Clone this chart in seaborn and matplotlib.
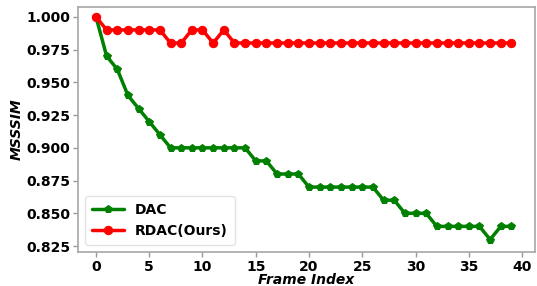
import matplotlib
matplotlib.use("Agg")
import matplotlib.pyplot as plt
import seaborn as sns
import pandas as pd

frames = list(range(40))
dac = [1.0, 0.97, 0.96, 0.94, 0.93, 0.92, 0.91, 0.90, 0.90, 0.90,
       0.90, 0.90, 0.90, 0.90, 0.90, 0.89, 0.89, 0.88, 0.88, 0.88,
       0.87, 0.87, 0.87, 0.87, 0.87, 0.87, 0.87, 0.86, 0.86, 0.85,
       0.85, 0.85, 0.84, 0.84, 0.84, 0.84, 0.84, 0.83, 0.84, 0.84]
rdac = [1.0, 0.99, 0.99, 0.99, 0.99, 0.99, 0.99, 0.98, 0.98, 0.99,
        0.99, 0.98, 0.99, 0.98, 0.98, 0.98, 0.98, 0.98, 0.98, 0.98,
        0.98, 0.98, 0.98, 0.98, 0.98, 0.98, 0.98, 0.98, 0.98, 0.98,
        0.98, 0.98, 0.98, 0.98, 0.98, 0.98, 0.98, 0.98, 0.98, 0.98]
xticks = [0, 5, 10, 15, 20, 25, 30, 35, 40]
yticks = [0.825, 0.850, 0.875, 0.900, 0.925, 0.950, 0.975, 1.000]

sns.set_theme(style="white", rc={"text.color": "black", "axes.labelcolor": "black",
                                 "xtick.color": "black", "ytick.color": "black"})
plt.rcParams['font.family'] = ['DejaVu Sans']

fig, ax = plt.subplots(figsize=(5.37, 2.86), dpi=100)
df = pd.DataFrame({"frame": frames, "DAC": dac, "RDAC(Ours)": rdac})
sns.lineplot(data=df, x="frame", y="DAC", ax=ax, color="green", marker="p",
             markersize=6, linewidth=2.5, markeredgecolor="green", label="DAC")
sns.lineplot(data=df, x="frame", y="RDAC(Ours)", ax=ax, color="red", marker="o",
             markersize=6, linewidth=2.5, markeredgecolor="red", label="RDAC(Ours)")

ax.set_xticks(xticks)
ax.set_yticks(yticks)
ax.set_yticklabels([f"{v:.3f}" for v in yticks])
ax.set_xlim(-1.7, 41.2)
ax.set_ylim(0.8205, 1.0076)
for lab in ax.get_xticklabels() + ax.get_yticklabels():
    lab.set_fontweight("bold")
    lab.set_fontsize(10)
ax.tick_params(axis="both", length=3.5, width=1, color="#999999", left=True, bottom=True, pad=2)
for s in ax.spines.values():
    s.set_color("#aaaaaa")
ax.set_xlabel("Frame Index", fontsize=10, fontweight="bold", style="italic", labelpad=-0.5)
ax.set_ylabel("MSSSIM", fontsize=10, fontweight="bold", style="italic", labelpad=1.5)
leg = ax.legend(loc="lower left", prop={"weight": "bold", "size": 10}, frameon=True,
                handlelength=2.3, borderpad=0.5, labelspacing=0.5,
                bbox_to_anchor=(0.0, 0.0))
leg.get_frame().set_edgecolor("#dddddd")

fig.subplots_adjust(left=0.145, right=0.996, top=0.976, bottom=0.119)
fig.savefig("out.png", dpi=100)
